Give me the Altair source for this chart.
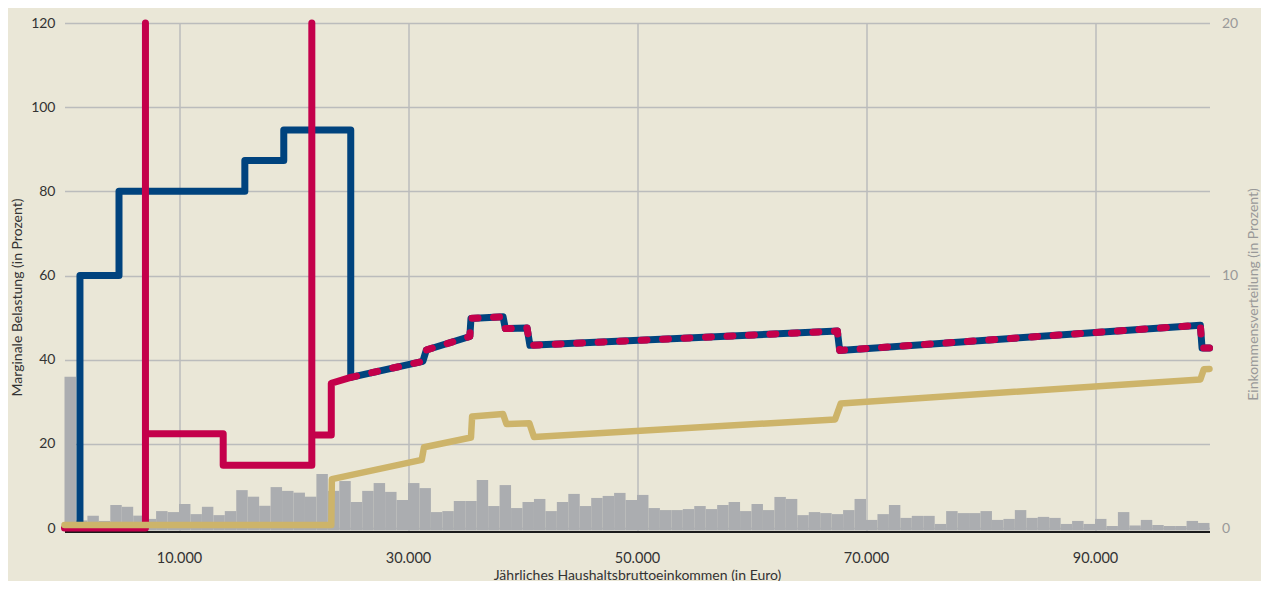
import altair as alt
import pandas as pd

# Income distribution: share of households per 1.000-Euro bin (in percent, right axis)
bin_start_k = list(range(100))
dist_pct = [5.99, 0.30, 0.49, 0.28, 0.91, 0.84, 0.49, 0.36, 0.67, 0.63,
            0.95, 0.55, 0.84, 0.51, 0.67, 1.50, 1.24, 0.88, 1.62, 1.47,
            1.40, 1.24, 2.14, 1.47, 1.86, 1.03, 1.47, 1.78, 1.43, 1.11,
            1.78, 1.58, 0.63, 0.67, 1.07, 1.07, 1.90, 0.87, 1.70, 0.79,
            1.03, 1.15, 0.67, 1.03, 1.35, 0.87, 1.19, 1.27, 1.39, 1.11,
            1.31, 0.79, 0.71, 0.71, 0.75, 0.87, 0.75, 0.91, 1.03, 0.67,
            0.95, 0.71, 1.23, 1.15, 0.51, 0.63, 0.59, 0.55, 0.71, 1.15,
            0.32, 0.55, 0.91, 0.40, 0.48, 0.48, 0.16, 0.67, 0.59, 0.59,
            0.67, 0.32, 0.36, 0.71, 0.40, 0.44, 0.40, 0.16, 0.28, 0.16,
            0.36, 0.08, 0.63, 0.10, 0.32, 0.12, 0.08, 0.08, 0.28, 0.20]

# Marginal burden lines (income in thousand Euro, burden in percent)
blue_x = [1.35, 1.35, 4.76, 4.76, 15.75, 15.75, 19.15, 19.15, 25.0, 25.0]
blue_y = [0.7, 60.0, 60.0, 80.0, 80.0, 87.3, 87.3, 94.6, 94.6, 35.8]

red_x = [0.0, 7.07, 7.07, 7.07, 13.86, 13.86, 21.6, 21.6, 21.6, 23.3, 23.3, 25.0]
red_y = [0.0, 0.0, 120.0, 22.4, 22.4, 14.9, 14.9, 120.0, 22.1, 22.1, 34.4, 35.8]

shared_x = [25.0, 31.3, 31.6, 35.4, 35.5, 38.3, 38.5, 40.4, 40.65, 67.5, 67.7, 99.2, 99.35, 100.0]
shared_y = [35.8, 39.6, 42.3, 45.5, 49.8, 50.2, 47.4, 47.5, 43.4, 46.8, 42.2, 48.2, 42.8, 42.8]

gold_x = [0.0, 23.3, 23.35, 31.2, 31.4, 35.5, 35.6, 38.3, 38.6, 40.6, 41.0, 67.3, 67.8, 99.2, 99.5, 100.0]
gold_y = [0.7, 0.7, 11.6, 16.2, 19.2, 21.5, 26.5, 27.1, 24.7, 24.9, 21.6, 25.8, 29.6, 35.3, 37.7, 37.8]

x_ticks = [10000, 30000, 50000, 70000, 90000]
left_ticks = [0, 20, 40, 60, 80, 100, 120]
right_ticks = [0, 10, 20]

BG = "#EAE7D7"
BLUE = "#00437E"
RED = "#C4004B"
GOLD = "#CDB46A"
BARC = "#ABADB0"
GRID = "#BBBCBC"
FONT = "Lato"

W, H = 1145, 507.5
LEFT_MIN = -0.594
RIGHT_MIN = LEFT_MIN / 6.0


def line_df(xs, ys):
    return pd.DataFrame({"x": [v * 1000 for v in xs], "y": ys, "i": list(range(len(xs)))})


bars_df = pd.DataFrame({
    "x0": [k * 1000 for k in bin_start_k],
    "x1": [(k + 1) * 1000 for k in bin_start_k],
    "pct": dist_pct,
})

xscale = alt.Scale(domain=[0, 100000], nice=False, zero=False)
xaxis = alt.Axis(
    values=x_ticks,
    labelExpr="replace(format(datum.value, ','), ',', '.')",
    title="Jährliches Haushaltsbruttoeinkommen (in Euro)",
    grid=True, gridColor=GRID, gridWidth=1.5,
    domainColor="#1a1a1a", domainWidth=2, offset=1,
    ticks=False, tickSize=0,
    labelFont=FONT, labelFontSize=14.5, labelColor="#333333",
    labelBaseline="middle", labelPadding=26.5,
    titleFont=FONT, titleFontSize=14, titleFontWeight="normal", titleColor="#333333",
    titleBaseline="middle", titleY=43.5,
)
left_scale = alt.Scale(domain=[LEFT_MIN, 120], nice=False, zero=False)
left_axis = alt.Axis(
    values=left_ticks, title="Marginale Belastung (in Prozent)",
    grid=True, gridColor=GRID, gridWidth=1.5,
    domain=False, ticks=False, tickSize=0, labelPadding=9.5,
    labelFont=FONT, labelFontSize=14, labelColor="#333333",
    titleFont=FONT, titleFontSize=14, titleFontWeight="normal", titleColor="#333333",
    titleAngle=270, titleAlign="center", titleBaseline="middle",
    titleX=-47.5, titleY=274,
)
right_scale = alt.Scale(domain=[RIGHT_MIN, 20], nice=False, zero=False)
right_axis = alt.Axis(
    orient="right", values=right_ticks, title="Einkommensverteilung (in Prozent)",
    grid=False, domain=False, ticks=False, tickSize=0, labelPadding=12,
    labelFont=FONT, labelFontSize=14, labelColor="#999999",
    titleFont=FONT, titleFontSize=14, titleFontWeight="normal", titleColor="#999999",
    titleAngle=270, titleAlign="center", titleBaseline="middle",
    titleX=44, titleY=271,
)

bars = alt.Chart(bars_df).mark_rect(color=BARC).encode(
    x=alt.X("x0:Q", scale=xscale, axis=xaxis),
    x2="x1:Q",
    y=alt.Y("pct:Q", scale=right_scale, axis=right_axis),
    y2=alt.value(H),
)


def line_layer(df, color, width, dash=None):
    kw = dict(color=color, strokeWidth=width, strokeCap="round", strokeJoin="round")
    if dash is not None:
        kw["strokeDash"] = dash
    return alt.Chart(df).mark_line(**kw).encode(
        x=alt.X("x:Q", scale=xscale, axis=xaxis),
        y=alt.Y("y:Q", scale=left_scale, axis=left_axis),
        order=alt.Order("i:Q"),
    )


blue_full = line_df(blue_x + shared_x, blue_y + shared_y)
red_solid = line_df(red_x, red_y)
red_dash = line_df(shared_x, shared_y)
gold = line_df(gold_x, gold_y)

lines = alt.layer(
    line_layer(blue_full, BLUE, 7),
    line_layer(red_solid, RED, 7),
    line_layer(red_dash, RED, 7, dash=[6, 15.5]),
    line_layer(gold, GOLD, 6.5),
)

chart = alt.layer(bars, lines).resolve_scale(y="independent").properties(
    width=W, height=H,
    autosize=alt.AutoSizeParams(type="none"),
    padding={"left": 56.5, "top": 15, "right": 51.5, "bottom": 50.5},
).configure(background=BG).configure_view(stroke=None)

chart.save("out.html", embed_options={"renderer": "svg", "actions": False})
